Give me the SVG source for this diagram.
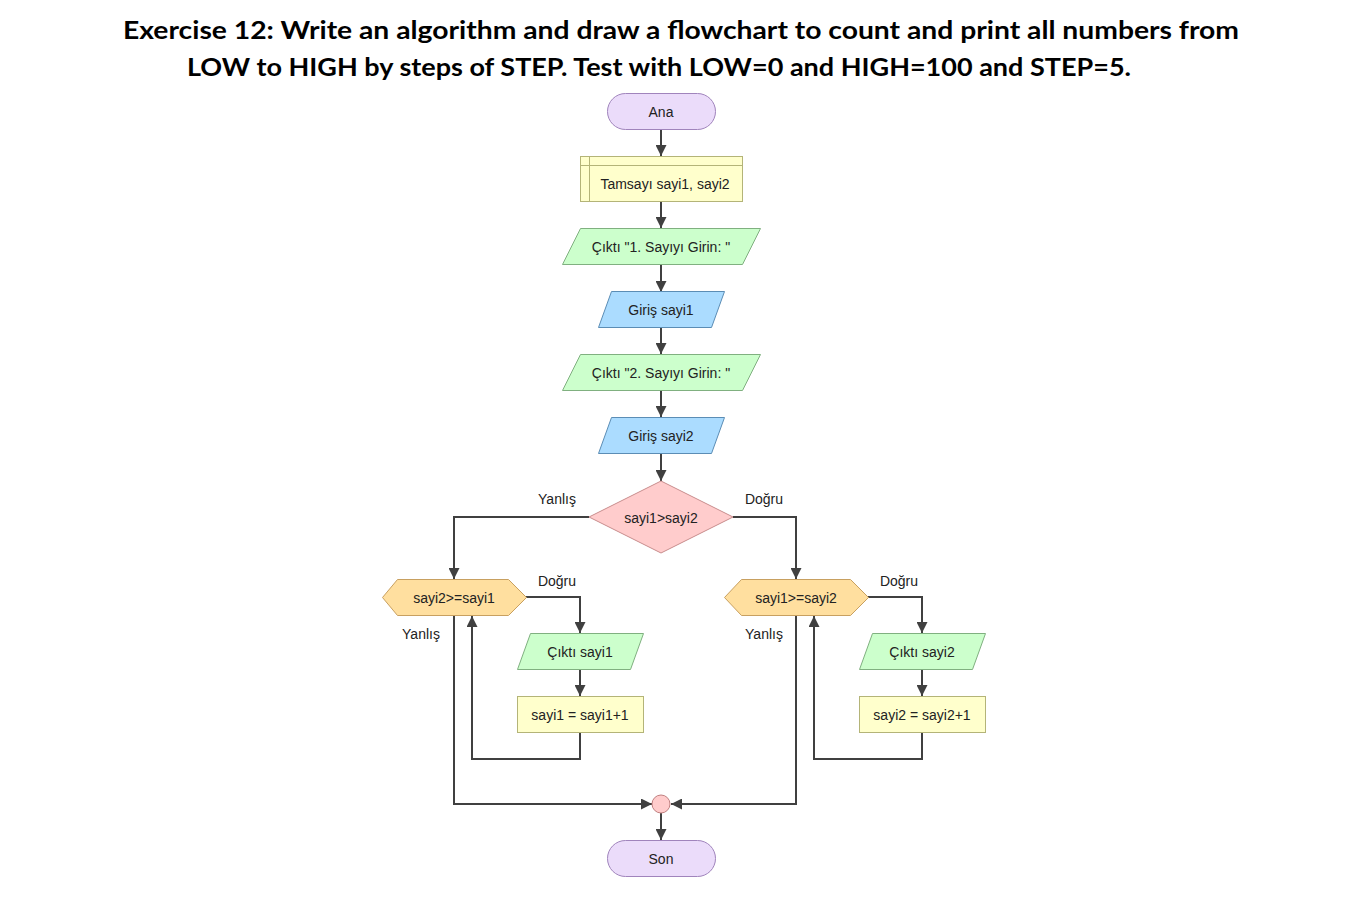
<svg xmlns="http://www.w3.org/2000/svg" width="1356" height="900" viewBox="0 0 1356 900">
<style>
.t{font-family:"Liberation Sans",Arial,sans-serif;font-size:14px;fill:#222;text-anchor:middle}
.title{font-family:Lato,"Open Sans",sans-serif;font-weight:bold;font-size:24px;fill:#000}
.term{fill:#ebdcfa;stroke:#a084bc;stroke-width:1}
.decl{fill:#ffffcc;stroke:#b4b478;stroke-width:1}
.out{fill:#ccffcc;stroke:#80b080;stroke-width:1}
.in{fill:#abdcff;stroke:#5b8db5;stroke-width:1}
.dec{fill:#ffcccc;stroke:#c88c8c;stroke-width:1}
.loop{fill:#ffdf9f;stroke:#c8a060;stroke-width:1}
.asg{fill:#ffffcc;stroke:#b4b478;stroke-width:1}
.join{fill:#ffcccc;stroke:#c08080;stroke-width:1}
.c{fill:none;stroke:#404040;stroke-width:2;marker-end:url(#ah)}
</style>
<defs>
<marker id="ah" markerUnits="userSpaceOnUse" markerWidth="11" markerHeight="11" refX="10" refY="5" orient="auto" viewBox="0 0 10 10">
<path d="M0,0 L10,5 L0,10 z" fill="#404040"/>
</marker>
</defs>
<rect width="1356" height="900" fill="#fff"/>
<g id="title">
<text class="title" x="123" y="39" textLength="1116" lengthAdjust="spacingAndGlyphs">Exercise 12: Write an algorithm and draw a flowchart to count and print all numbers from</text>
<text class="title" x="187" y="76" textLength="944" lengthAdjust="spacingAndGlyphs">LOW to HIGH by steps of STEP. Test with LOW=0 and HIGH=100 and STEP=5.</text>
</g>
<g id="connectors">
<path class="c" d="M661,129 V156"/>
<path class="c" d="M661,201 V228"/>
<path class="c" d="M661,264 V292"/>
<path class="c" d="M661,327 V354"/>
<path class="c" d="M661,390 V417"/>
<path class="c" d="M661,453 V481"/>
<path class="c" d="M589,517 H454 V579"/>
<path class="c" d="M733,517 H796 V579"/>
<path class="c" d="M526,597 H580 V633"/>
<path class="c" d="M580,669 V696"/>
<path class="c" d="M580,733 V759 H472 V616"/>
<path class="c" d="M454,616 V804 H652"/>
<path class="c" d="M868,597 H922 V633"/>
<path class="c" d="M922,669 V696"/>
<path class="c" d="M922,733 V759 H814 V616"/>
<path class="c" d="M796,616 V804 H671"/>
<path class="c" d="M661,813 V840"/>
<text class="t" x="557" y="504">Yanlış</text>
<text class="t" x="764" y="504">Doğru</text>
<text class="t" x="557" y="586">Doğru</text>
<text class="t" x="421" y="639">Yanlış</text>
<text class="t" x="899" y="586">Doğru</text>
<text class="t" x="764" y="639">Yanlış</text>
</g>
<g id="start">
<rect class="term" x="607.5" y="93.5" width="108" height="36" rx="18"/>
<text class="t" x="661" y="117">Ana</text>
</g>
<g id="declare">
<rect class="decl" x="580.5" y="156.5" width="162" height="45"/>
<path d="M580.5,165.5 H742.5 M589.5,156.5 V201.5" fill="none" stroke="#b4b478" stroke-width="1"/>
<text class="t" x="665" y="189">Tamsayı sayi1, sayi2</text>
</g>
<g id="output1">
<polygon class="out" points="580.5,228.5 760.5,228.5 742.5,264.5 562.5,264.5"/>
<text class="t" x="661" y="252">Çıktı "1. Sayıyı Girin: "</text>
</g>
<g id="input1">
<polygon class="in" points="611.5,291.5 724.5,291.5 711.5,327.5 598.5,327.5"/>
<text class="t" x="661" y="315">Giriş sayi1</text>
</g>
<g id="output2">
<polygon class="out" points="580.5,354.5 760.5,354.5 742.5,390.5 562.5,390.5"/>
<text class="t" x="661" y="378">Çıktı "2. Sayıyı Girin: "</text>
</g>
<g id="input2">
<polygon class="in" points="611.5,417.5 724.5,417.5 711.5,453.5 598.5,453.5"/>
<text class="t" x="661" y="441">Giriş sayi2</text>
</g>
<g id="decision">
<polygon class="dec" points="661,481 733,517 661,553 589,517"/>
<text class="t" x="661" y="523">sayi1&gt;sayi2</text>
</g>
<g id="loop1">
<polygon class="loop" points="382.5,597.5 397.5,579.5 508.5,579.5 526.5,597.5 508.5,615.5 397.5,615.5"/>
<text class="t" x="454" y="603">sayi2&gt;=sayi1</text>
</g>
<g id="outsayi1">
<polygon class="out" points="530.5,633.5 643.5,633.5 630.5,669.5 517.5,669.5"/>
<text class="t" x="580" y="657">Çıktı sayi1</text>
</g>
<g id="inc1">
<rect class="asg" x="517.5" y="696.5" width="126" height="36"/>
<text class="t" x="580" y="720">sayi1 = sayi1+1</text>
</g>
<g id="loop2">
<polygon class="loop" points="724.5,597.5 741.5,579.5 850.5,579.5 868.5,597.5 850.5,615.5 741.5,615.5"/>
<text class="t" x="796" y="603">sayi1&gt;=sayi2</text>
</g>
<g id="outsayi2">
<polygon class="out" points="872.5,633.5 985.5,633.5 972.5,669.5 859.5,669.5"/>
<text class="t" x="922" y="657">Çıktı sayi2</text>
</g>
<g id="inc2">
<rect class="asg" x="859.5" y="696.5" width="126" height="36"/>
<text class="t" x="922" y="720">sayi2 = sayi2+1</text>
</g>
<g id="join">
<circle class="join" cx="661" cy="804" r="9"/>
</g>
<g id="end">
<rect class="term" x="607.5" y="840.5" width="108" height="36" rx="18"/>
<text class="t" x="661" y="864">Son</text>
</g>
</svg>
